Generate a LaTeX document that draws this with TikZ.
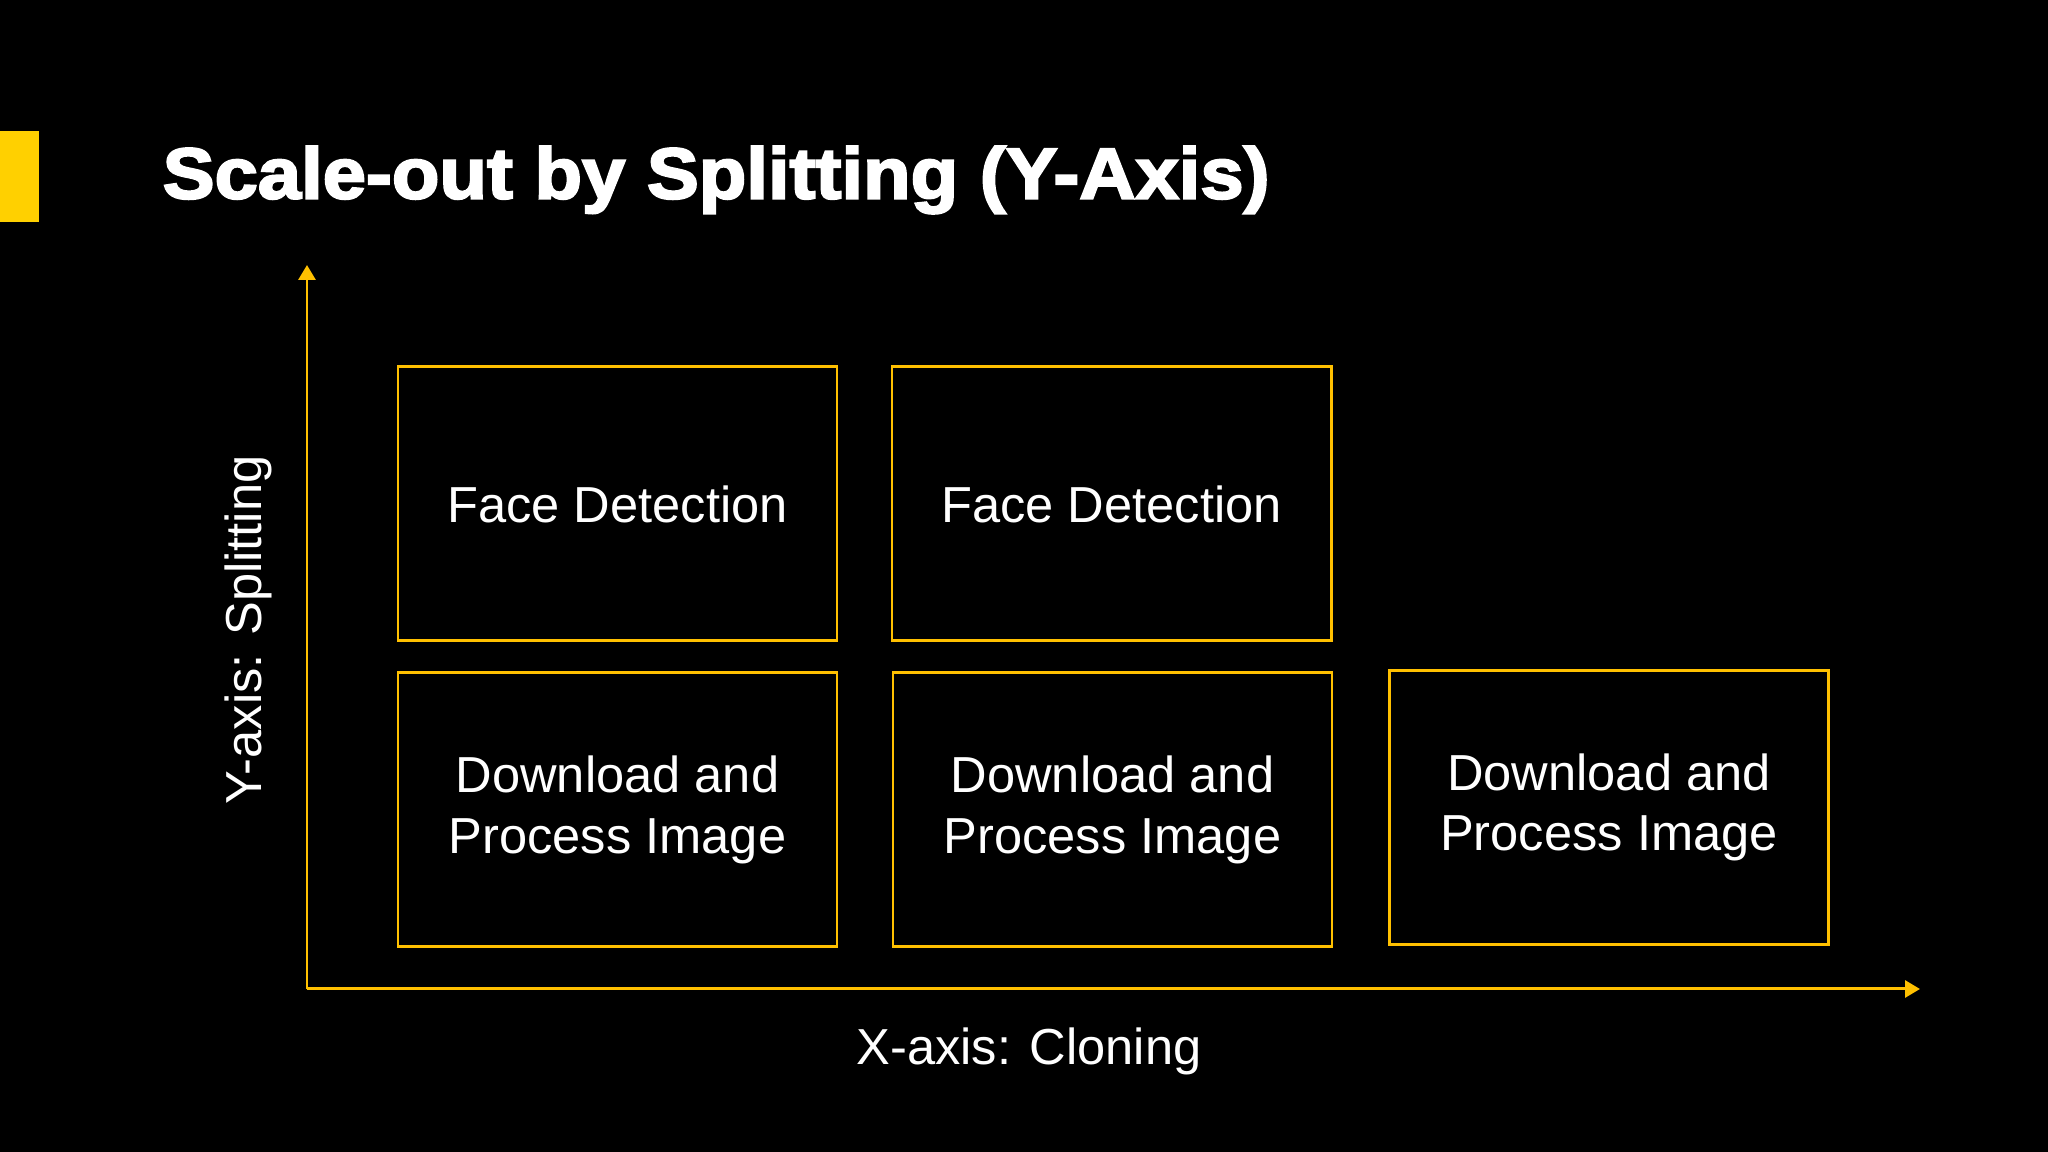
\documentclass[tikz,border=0pt]{standalone}
\usepackage{fontspec}
\setmainfont{Liberation Sans}
\newfontfamily\titlefont[FakeBold=3,FakeStretch=1.08]{Liberation Sans}
\usetikzlibrary{arrows.meta}
\definecolor{slideyellow}{HTML}{FFC000}
\definecolor{barYellow}{HTML}{FFD000}
\begin{document}
\begin{tikzpicture}
	\tikzstyle{block} = [rectangle,draw=slideyellow,line width=0.85pt,minimum width=4.39cm,minimum height=2.74cm,text=white,align=center,font=\fontsize{14.4}{17.3}\selectfont]
	\tikzstyle{axis} = [draw=slideyellow,line width=0.85pt,-{Triangle[length=1.5mm,width=1.7mm]}]
	\fill[black] (0,0) rectangle (20.48,11.52);
	\useasboundingbox (0,0) rectangle (20.48,11.52);
	\fill[barYellow] (0,9.30) rectangle (0.39,10.21);
	\node[anchor=base west,text=white,inner sep=0pt,font=\titlefont\bfseries\fontsize{20.5}{24}\selectfont](title)at(1.62,9.535){Scale-out by Splitting (Y-Axis)};
	\coordinate (origin) at (3.07,1.63);
	\coordinate (ytip) at (3.07,8.87);
	\coordinate (xtip) at (19.20,1.63);
	\node[block](face1)at(6.175,6.48){Face Detection};
	\node[block](face2)at(11.115,6.48){Face Detection};
	\node[block](download1)at(6.175,3.42){Download and\\Process Image};
	\node[block](download2)at(11.125,3.42){Download and\\Process Image};
	\node[block](download3)at(16.09,3.445){Download and\\Process Image};
	\node[text=white,font=\fontsize{14.4}{17.3}\selectfont](xlabel)at(10.29,1.01){X-axis: Cloning};
	\node[text=white,rotate=90,font=\fontsize{14.4}{17.3}\selectfont](ylabel)at(2.48,5.22){Y-axis: Splitting};
	\draw[axis] (origin) -- (ytip);
	\draw[axis] (origin) -- (xtip);
\end{tikzpicture}
\end{document}
